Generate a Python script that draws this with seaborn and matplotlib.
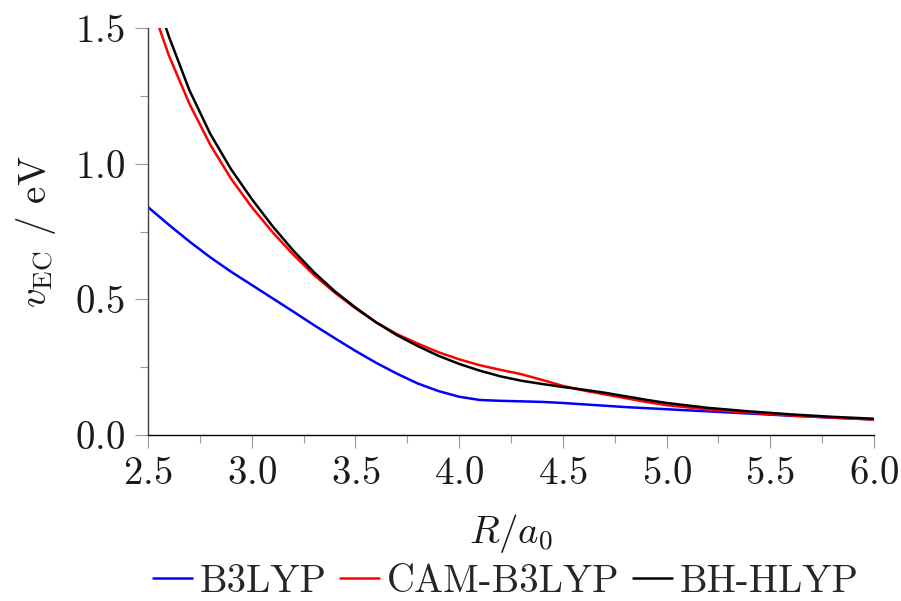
import numpy as np
import pandas as pd
import matplotlib
matplotlib.use("Agg")
import matplotlib.pyplot as plt
from matplotlib.ticker import MultipleLocator, FuncFormatter
import seaborn as sns

# Interatomic distance R / a0
R = [2.5, 2.6, 2.7, 2.8, 2.9, 3.0, 3.1, 3.2, 3.3, 3.4, 3.5, 3.6, 3.7, 3.8, 3.9,
     4.0, 4.1, 4.2, 4.3, 4.4, 4.5, 4.6, 4.7, 4.8, 4.9, 5.0, 5.2, 5.4, 5.6, 5.8, 6.0]

# Excitonic coupling v_EC / eV for each functional
b3lyp = [0.84, 0.775, 0.713, 0.655, 0.602, 0.553, 0.504, 0.455, 0.405, 0.357, 0.31,
         0.266, 0.226, 0.19, 0.162, 0.141, 0.129, 0.126, 0.124, 0.122, 0.118, 0.113,
         0.108, 0.103, 0.099, 0.095, 0.087, 0.079, 0.071, 0.064, 0.057]
cam_b3lyp = [1.62, 1.40, 1.22, 1.07, 0.945, 0.84, 0.748, 0.665, 0.59, 0.525, 0.467,
             0.415, 0.372, 0.337, 0.305, 0.279, 0.257, 0.24, 0.224, 0.203, 0.181, 0.164,
             0.15, 0.136, 0.122, 0.11, 0.094, 0.082, 0.072, 0.064, 0.057]
bh_hlyp = [1.70, 1.47, 1.27, 1.11, 0.98, 0.87, 0.77, 0.68, 0.60, 0.53, 0.47,
           0.415, 0.368, 0.328, 0.292, 0.262, 0.237, 0.216, 0.2, 0.188, 0.177, 0.167,
           0.156, 0.143, 0.13, 0.118, 0.1, 0.087, 0.076, 0.067, 0.06]

series = ["B3LYP", "CAM-B3LYP", "BH-HLYP"]
colors = {"B3LYP": "#0000ff", "CAM-B3LYP": "#ff0000", "BH-HLYP": "#000000"}

df = pd.concat([
    pd.DataFrame({"R": R, "v": vals, "method": name})
    for name, vals in zip(series, [b3lyp, cam_b3lyp, bh_hlyp])
], ignore_index=True)

sns.set_style("ticks")
plt.rcParams["font.family"] = ["cmr10", "DejaVu Serif"]
plt.rcParams["mathtext.fontset"] = "cm"
plt.rcParams["axes.unicode_minus"] = False

fig = plt.figure(figsize=(9.01, 6.01), dpi=100)
ax = fig.add_axes([148 / 901, 1 - 435 / 601, 726 / 901, 407 / 601])

sns.lineplot(data=df, x="R", y="v", hue="method", hue_order=series,
             palette=colors, linewidth=1.8, ax=ax, legend=False, sort=True)

ax.set_xlim(2.5, 6.0)
ax.set_ylim(0.0, 1.5)

ax.xaxis.set_major_locator(MultipleLocator(0.5))
ax.xaxis.set_minor_locator(MultipleLocator(0.25))
ax.yaxis.set_major_locator(MultipleLocator(0.5))
ax.yaxis.set_minor_locator(MultipleLocator(0.25))
fmt = FuncFormatter(lambda v, p: f"${v:.1f}$")
ax.xaxis.set_major_formatter(fmt)
ax.yaxis.set_major_formatter(fmt)

ax.tick_params(which="major", direction="out", length=9.5, width=0.8,
               color="#999999", labelsize=28, labelcolor="#1a1a1a")
ax.tick_params(which="minor", direction="out", length=6, width=0.8, color="#999999")
ax.tick_params(axis="y", which="major", pad=7)
ax.tick_params(axis="x", which="major", pad=6)

for side in ("top", "right"):
    ax.spines[side].set_visible(False)
ax.spines["left"].set_color("#404040")
ax.spines["left"].set_linewidth(1.0)
ax.spines["bottom"].set_color("#000000")
ax.spines["bottom"].set_linewidth(1.0)

ax.set_xlabel(r"$R/a_0$", fontsize=28, labelpad=14, color="#1a1a1a")
ax.set_ylabel(r"$v_{\mathrm{EC}}$ / eV", fontsize=28, labelpad=12, color="#1a1a1a")

handles = [plt.Line2D([], [], color=colors[s], linewidth=1.8) for s in series]
fig.legend(handles, series, loc="center", bbox_to_anchor=(506 / 901, 1 - 582 / 601),
           ncol=3, frameon=False, fontsize=28, handlelength=1.0,
           handletextpad=0.2, columnspacing=0.35, borderaxespad=0)

fig.savefig("out.png", dpi=100)
